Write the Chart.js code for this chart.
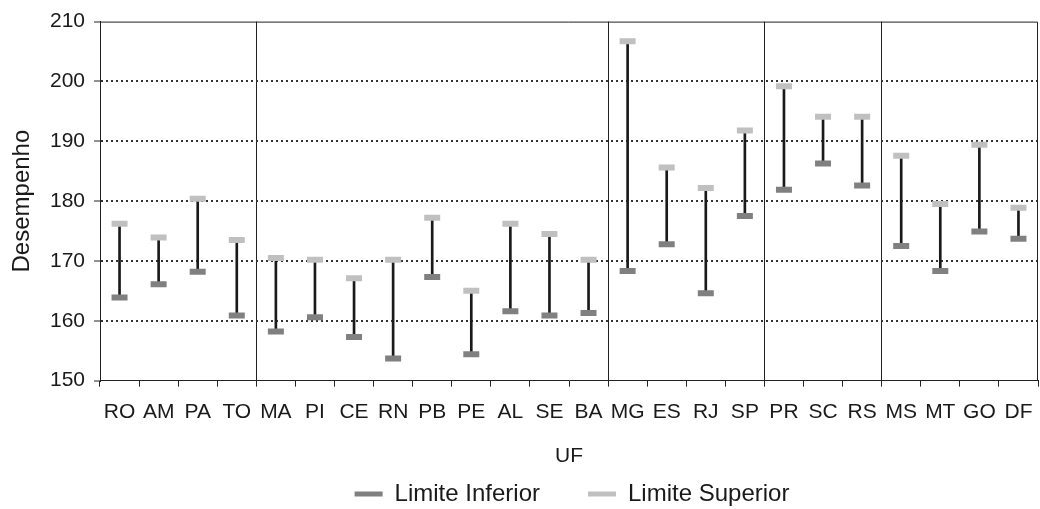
<!DOCTYPE html>
<html>
<head>
<meta charset="utf-8">
<script src="https://cdn.jsdelivr.net/npm/chart.js@4.4.1/dist/chart.umd.min.js"></script>
<style>
  html, body { margin: 0; padding: 0; background: #fff; overflow: hidden; }
  #wrap { width: 1040px; height: 509px; position: relative; overflow: hidden; }
  canvas { display: block; }
</style>
</head>
<body>
<div id="wrap"><canvas id="c"></canvas></div>
<script>
const categories = ['RO','AM','PA','TO','MA','PI','CE','RN','PB','PE','AL','SE','BA','MG','ES','RJ','SP','PR','SC','RS','MS','MT','GO','DF'];
const limiteInferior = [163.9,166.1,168.2,160.9,158.2,160.6,157.3,153.7,167.3,154.4,161.6,160.9,161.3,168.3,172.8,164.6,177.5,181.9,186.3,182.6,172.5,168.3,174.9,173.7];
const limiteSuperior = [176.2,173.9,180.4,173.5,170.5,170.2,167.1,170.2,177.2,165.0,176.2,174.5,170.2,206.7,185.6,182.2,191.8,199.2,194.1,194.1,187.6,179.5,189.4,178.9];
const regionStarts = [4, 13, 17, 20];
const yTicks = [150,160,170,180,190,200,210];

const ranges = categories.map((_, i) => [limiteInferior[i], limiteSuperior[i]]);
const FONT = "'Liberation Sans', Arial, sans-serif";
const TXT = '#1a1a1a';
const LEG_PAD = 48;
const LEG_H = 36;

const framePlugin = {
  id: 'frame',
  afterDraw(chart) {
    const a = chart.chartArea, ctx = chart.ctx;
    ctx.save();
    ctx.strokeStyle = '#222';
    ctx.lineWidth = 1;
    ctx.beginPath();
    ctx.moveTo(a.left, a.top + 0.5);
    ctx.lineTo(a.right - 0.5, a.top + 0.5);
    ctx.lineTo(a.right - 0.5, a.bottom);
    ctx.stroke();
    ctx.restore();
  }
};

const legendTweak = {
  id: 'legendTweak',
  beforeLayout(chart) {
    const lg = chart.legend;
    if (lg && !lg.__tw) {
      const orig = lg.fit;
      lg.fit = function () { orig.call(this); this.height = LEG_H; };
      lg.__tw = true;
    }
  },
  afterLayout(chart) {
    const lg = chart.legend;
    if (!lg) return;
    lg.top = 494 - 12 - LEG_PAD;
    lg.bottom = chart.height;
    lg.height = lg.bottom - lg.top;
    lg.left += 53; lg.right += 53;
  }
};

new Chart(document.getElementById('c'), {
  type: 'bar',
  data: {
    labels: categories,
    datasets: [
      {
        type: 'line',
        label: 'Limite Inferior',
        data: limiteInferior,
        showLine: false,
        pointStyle: 'line',
        pointRadius: 8,
        pointHoverRadius: 8,
        pointBorderWidth: 6,
        pointBorderColor: '#808080',
        borderColor: '#808080',
        backgroundColor: '#808080',
        borderWidth: 0,
        order: 0
      },
      {
        type: 'line',
        label: 'Limite Superior',
        data: limiteSuperior,
        showLine: false,
        pointStyle: 'line',
        pointRadius: 8,
        pointHoverRadius: 8,
        pointBorderWidth: 6,
        pointBorderColor: '#c0c0c0',
        borderColor: '#c0c0c0',
        backgroundColor: '#c0c0c0',
        borderWidth: 0,
        order: 1
      },
      {
        type: 'bar',
        label: 'range',
        data: ranges,
        backgroundColor: '#1a1a1a',
        borderWidth: 0,
        barThickness: 2,
        order: 5
      }
    ]
  },
  options: {
    responsive: true,
    maintainAspectRatio: false,
    animation: false,
    layout: { autoPadding: false, padding: { top: 13, right: 2, left: 0, bottom: 0 } },
    plugins: {
      tooltip: { enabled: false },
      legend: {
        position: 'bottom',
        labels: {
          filter: (item) => item.text !== 'range',
          boxWidth: 28,
          boxHeight: 5,
          padding: LEG_PAD,
          color: TXT,
          font: { family: FONT, size: 24 }
        }
      }
    },
    scales: {
      x: {
        offset: true,
        afterFit: (s) => { s.paddingLeft = 0; s.paddingRight = 0; },
        grid: {
          offset: true,
          drawOnChartArea: true,
          color: (c) => regionStarts.includes(c.index) ? '#222' : 'rgba(0,0,0,0)',
          lineWidth: 1,
          tickColor: '#222',
          tickLength: 6
        },
        border: { color: '#222', width: 1 },
        ticks: { color: TXT, font: { family: FONT, size: 21 }, padding: 13, maxRotation: 0, autoSkip: false },
        title: { display: true, text: 'UF', color: TXT, font: { family: FONT, size: 21 }, padding: { top: 6, bottom: 4 } }
      },
      y: {
        min: 150,
        max: 210,
        afterBuildTicks: (axis) => { axis.ticks = yTicks.map(v => ({ value: v })); },
        afterFit: (s) => { s.width = 100; },
        grid: {
          color: (c) => (c.tick && (c.tick.value === 150 || c.tick.value === 210)) ? 'rgba(0,0,0,0)' : '#333',
          lineWidth: 2,
          tickColor: '#222',
          tickWidth: 1,
          tickBorderDash: [],
          tickLength: 6
        },
        border: { color: '#222', width: 1, dash: [2, 3] },
        ticks: { color: TXT, font: { family: FONT, size: 21 }, padding: 9 },
        title: { display: true, text: 'Desempenho', color: TXT, font: { family: FONT, size: 24 }, padding: { top: 8, bottom: 0 } }
      }
    }
  },
  plugins: [framePlugin, legendTweak]
});
</script>
</body>
</html>
